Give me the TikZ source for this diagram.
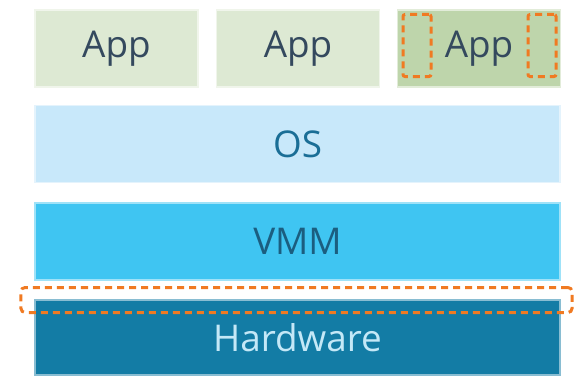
\documentclass[tikz,border=0pt]{standalone}
\usepackage{fontspec}
\setmainfont{Open Sans}
\usepackage{tikz}
\usetikzlibrary{positioning,fit}
\definecolor{AppTint}{HTML}{DDE9D3}
\definecolor{AppPick}{HTML}{BED5AB}
\definecolor{AppText}{HTML}{34495E}
\definecolor{OSFill}{HTML}{C8E8FA}
\definecolor{OSText}{HTML}{1A6E96}
\definecolor{VMMFill}{HTML}{3FC5F2}
\definecolor{VMMText}{HTML}{1B5E80}
\definecolor{HWFill}{HTML}{137CA5}
\definecolor{HWText}{HTML}{C4E8F7}
\definecolor{MarkOrange}{HTML}{F07A22}
\tikzset{
  appbox/.style={draw=white!55!AppTint,line width=1.5bp,fill=AppTint,minimum width=163bp,minimum height=77bp,
    inner sep=0pt,text=AppText,font=\fontsize{37}{40}\selectfont},
  layerbox/.style={line width=1.5bp,minimum width=525bp,minimum height=77bp,inner sep=0pt,
    font=\fontsize{37}{40}\selectfont},
  markbox/.style={draw=MarkOrange,line width=3bp,dash pattern=on 7bp off 5bp,rounded corners=2bp,inner sep=0pt}
}
\begin{document}
\begin{tikzpicture}[x=1bp,y=1bp]
  \useasboundingbox (0,0) rectangle (585,376);
  % top row of applications
  \node[appbox] (app1) at (116.5,327.5) {App};
  \node[appbox] (app2) at (298,327.5) {App};
  \node[appbox,fill=AppPick,draw=white!55!AppPick] (app3) at (479,327.5) {App};
  % layers
  \node[layerbox,fill=OSFill,draw=white!50!OSFill,text=OSText] (os) at (297.5,232) {OS};
  \node[layerbox,fill=VMMFill,draw=white!50!VMMFill,text=VMMText] (vmm) at (297.5,134.5) {VMM};
  \node[layerbox,fill=HWFill,draw=white!50!HWFill,text=HWText,minimum height=75bp] (hw) at (297.5,38.5) {Hardware};
  % dashed marks
  \node[markbox,minimum width=28bp,minimum height=62bp] (markl) at (417,330.5) {};
  \node[markbox,minimum width=28bp,minimum height=62bp] (markr) at (542,330.5) {};
  \node[markbox,minimum width=551bp,minimum height=25bp,rounded corners=4bp] (markhw) at (296.5,76) {};
\end{tikzpicture}
\end{document}
